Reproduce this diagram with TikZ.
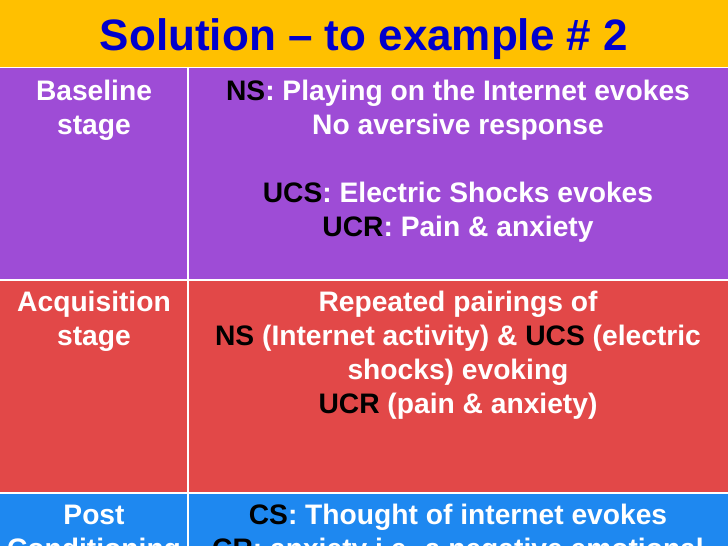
\documentclass[tikz,border=0pt]{standalone}
\usepackage{fontspec}
\setmainfont{Liberation Sans}
\begin{document}
\begin{tikzpicture}[x=1pt,y=-1pt,
  txt/.style={anchor=base,inner sep=0pt,text=white,font=\fontsize{28.2}{34}\selectfont\bfseries},
  ttl/.style={anchor=base,inner sep=0pt,text=titleblue,font=\fontsize{44}{50}\selectfont\bfseries},
  sep/.style={white,line width=1.5pt}]
\definecolor{titleyellow}{RGB}{255,192,0}
\definecolor{titleblue}{RGB}{0,0,204}
\definecolor{rowpurple}{RGB}{158,76,214}
\definecolor{rowred}{RGB}{226,72,72}
\definecolor{rowblue}{RGB}{30,136,240}
\useasboundingbox (0,0) rectangle (728,546);
\clip (0,0) rectangle (728,546);
% backgrounds
\fill[titleyellow] (0,0) rectangle (728,67);
\fill[rowpurple] (0,67) rectangle (728,280);
\fill[rowred] (0,280) rectangle (728,493);
\fill[rowblue] (0,493) rectangle (728,546);
% grid lines
\coordinate (h1l) at (0,67.5); \coordinate (h1r) at (728,67.5);
\coordinate (h2l) at (0,280); \coordinate (h2r) at (728,280);
\coordinate (h3l) at (0,493); \coordinate (h3r) at (728,493);
\coordinate (vt) at (188,67.5); \coordinate (vb) at (188,546);
\draw[sep] (h1l) -- (h1r);
\draw[sep] (h2l) -- (h2r);
\draw[sep] (h3l) -- (h3r);
\draw[sep] (vt) -- (vb);
% title
\node[ttl] (title) at (364,50) {Solution – to example \# 2};
% row 1
\node[txt] (b1) at (94,100) {Baseline};
\node[txt] (b2) at (94,134) {stage};
\node[txt] (r1a) at (458,100) {\textcolor{black}{NS}: Playing on the Internet evokes};
\node[txt] (r1b) at (458,134) {No aversive response};
\node[txt] (r1c) at (458,202) {\textcolor{black}{UCS}: Electric Shocks evokes};
\node[txt] (r1d) at (458,236) {\textcolor{black}{UCR}: Pain \& anxiety};
% row 2
\node[txt] (a1) at (94,311) {Acquisition};
\node[txt] (a2) at (94,345) {stage};
\node[txt] (r2a) at (458,311) {Repeated pairings of};
\node[txt] (r2b) at (458,345) {\textcolor{black}{NS} (Internet activity) \& \textcolor{black}{UCS} (electric};
\node[txt] (r2c) at (458,379) {shocks) evoking};
\node[txt] (r2d) at (458,413) {\textcolor{black}{UCR} (pain \& anxiety)};
% row 3
\node[txt] (p1) at (94,524) {Post};
\node[txt] (p2) at (94,558) {Conditioning};
\node[txt] (r3a) at (458,524) {\textcolor{black}{CS}: Thought of internet evokes};
\node[txt] (r3b) at (458,558) {\textcolor{black}{CR}: anxiety i.e. a negative emotional};
\end{tikzpicture}
\end{document}
